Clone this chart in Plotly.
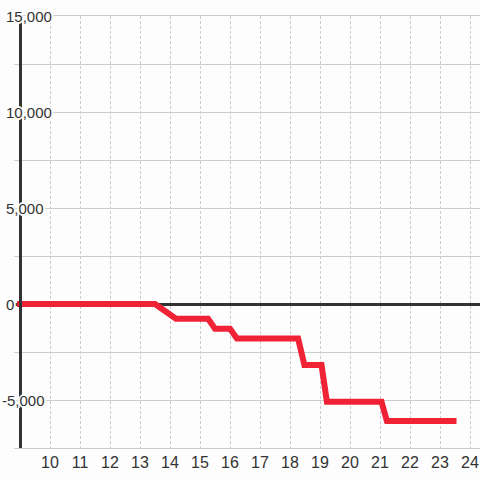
import plotly.graph_objects as go

# data
hours = [8.9, 13.5, 14.2, 15.27, 15.5, 16.0, 16.23, 18.27, 18.48, 19.05, 19.23, 21.05, 21.23, 23.55]
values = [0, 0, -770, -770, -1290, -1290, -1800, -1800, -3180, -3180, -5090, -5090, -6100, -6100]
x_ticks = list(range(10, 25))
y_ticks = [-5000, 0, 5000, 10000, 15000]
y_grid = [-7500, -5000, -2500, 0, 2500, 5000, 7500, 10000, 12500, 15000]

BG = "#fcfdfc"
TXT = "#333333"
L, T, B, R = 14, 16, 32, 0
W = H = 480

fig = go.Figure()
fig.add_trace(go.Scatter(x=hours, y=values, mode="lines",
                         line=dict(color="#ef2236", width=6), hoverinfo="skip"))

halo = ", ".join(f"{dx}px {dy}px 0 {BG}" for dx, dy in
                 [(-2, 0), (2, 0), (0, -2), (0, 2), (-1, -1), (1, 1), (-1, 1), (1, -1)])

annotations = []
for v in y_ticks:
    annotations.append(dict(
        xref="paper", yref="y", x=0, y=v, xanchor="left", yanchor="middle",
        xshift=(6 - L) - (4 if v < 0 else 0) - 1,
        text=f"{v:,}", showarrow=False,
        font=dict(family="Liberation Sans, Arial", size=15, color=TXT, shadow=halo),
        borderpad=0,
    ))

# left axis line position in paper coords
axis_px = 20.5
fig.add_shape(type="line", xref="paper", yref="y",
              x0=(axis_px - L) / (W - L - R), x1=(axis_px - L) / (W - L - R),
              y0=-7500, y1=15000, line=dict(color=TXT, width=3), layer="above")

fig.update_layout(
    width=W, height=H, margin=dict(l=L, r=R, t=T, b=B),
    paper_bgcolor=BG, plot_bgcolor=BG, showlegend=False,
    annotations=annotations,
    xaxis=dict(range=[8.8, 24.3333], tickvals=x_ticks, ticktext=[str(t) for t in x_ticks],
               showgrid=True, gridcolor="#cccccc", gridwidth=1, griddash="3px,2px",
               zeroline=False, showline=True, mirror=True, linecolor="#cccccc", linewidth=1,
               ticks="", tickfont=dict(family="Liberation Sans, Arial", size=16, color=TXT)),
    yaxis=dict(range=[-7500, 15000], tickvals=y_grid, showticklabels=False,
               showgrid=True, gridcolor="#cccccc", gridwidth=1,
               zeroline=True, zerolinecolor=TXT, zerolinewidth=3,
               showline=False, ticks=""),
)

fig.write_html("out.html", config={"displayModeBar": False},
               post_script="document.body.style.margin='0';document.body.style.overflow='hidden';")
